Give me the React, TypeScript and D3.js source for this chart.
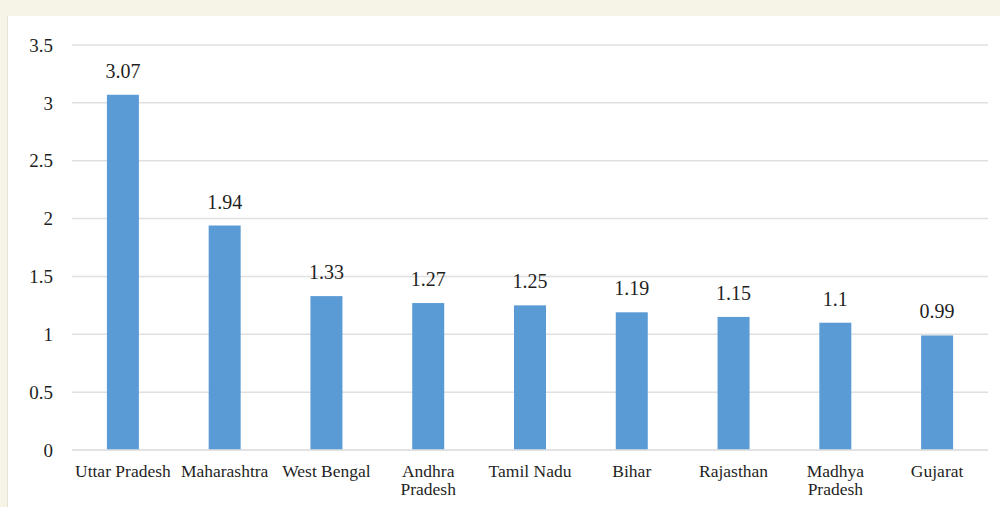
import React, { useEffect, useRef } from "react";
import * as d3 from "d3";

const categories = [
  "Uttar Pradesh",
  "Maharashtra",
  "West Bengal",
  "Andhra Pradesh",
  "Tamil Nadu",
  "Bihar",
  "Rajasthan",
  "Madhya Pradesh",
  "Gujarat",
];
const values = [3.07, 1.94, 1.33, 1.27, 1.25, 1.19, 1.15, 1.1, 0.99];
const yTicks = [0, 0.5, 1, 1.5, 2, 2.5, 3, 3.5];

const W = 1000;
const H = 507;
const FONT = "'Liberation Serif', 'Times New Roman', serif";

export default function App() {
  const ref = useRef<SVGSVGElement | null>(null);

  useEffect(() => {
    const svg = d3.select(ref.current);
    svg.selectAll("*").remove();

    svg.append("rect").attr("x", 0).attr("y", 0).attr("width", W).attr("height", H).attr("fill", "#f6f3e7");
    svg.append("rect").attr("x", 7).attr("y", 16).attr("width", W - 7).attr("height", H - 16).attr("fill", "#ffffff");
    svg.append("line").attr("x1", 7.5).attr("x2", 7.5).attr("y1", 16).attr("y2", H).attr("stroke", "#e6e2d6").attr("stroke-width", 1);

    const x = d3.scaleBand<string>().domain(categories).range([72, 988]).paddingInner(0).paddingOuter(0);
    const y = d3.scaleLinear().domain([0, 3.5]).range([450, 45]);

    const g = svg.append("g");

    // gridlines
    g.selectAll("line.grid")
      .data(yTicks)
      .enter()
      .append("line")
      .attr("x1", 72)
      .attr("x2", 988)
      .attr("y1", (d) => y(d))
      .attr("y2", (d) => y(d))
      .attr("stroke", "#e0e0e0")
      .attr("stroke-width", 1.5);

    // y tick labels
    g.selectAll("text.ytick")
      .data(yTicks)
      .enter()
      .append("text")
      .attr("x", 53)
      .attr("y", (d) => y(d))
      .attr("dy", "0.35em")
      .attr("text-anchor", "end")
      .attr("font-family", FONT)
      .attr("font-size", 19)
      .attr("fill", "#1f1f1f")
      .text((d) => String(d));

    const bw = 32;
    // bars
    g.selectAll("rect.bar")
      .data(values)
      .enter()
      .append("rect")
      .attr("x", (_, i) => (x(categories[i]) as number) + x.bandwidth() / 2 - bw / 2)
      .attr("y", (d) => y(d))
      .attr("width", bw)
      .attr("height", (d) => y(0) - y(d))
      .attr("fill", "#5b9bd5");

    // redraw baseline over bars
    g.append("line")
      .attr("x1", 72)
      .attr("x2", 988)
      .attr("y1", y(0))
      .attr("y2", y(0))
      .attr("stroke", "#e0e0e0")
      .attr("stroke-width", 1.5);

    // data labels
    g.selectAll("text.val")
      .data(values)
      .enter()
      .append("text")
      .attr("x", (_, i) => (x(categories[i]) as number) + x.bandwidth() / 2)
      .attr("y", (d) => y(d) - 17)
      .attr("text-anchor", "middle")
      .attr("font-family", FONT)
      .attr("font-size", 20)
      .attr("fill", "#1f1f1f")
      .text((d) => String(d));

    // category labels with wrapping
    const maxW = x.bandwidth() - 2;
    categories.forEach((c) => {
      const cx = (x(c) as number) + x.bandwidth() / 2;
      const t = g
        .append("text")
        .attr("x", cx)
        .attr("y", 477)
        .attr("text-anchor", "middle")
        .attr("font-family", FONT)
        .attr("font-size", 17.5)
        .attr("fill", "#1f1f1f")
        .text(c);
      const node = t.node() as SVGTextElement;
      if (node.getComputedTextLength() > maxW && c.includes(" ")) {
        const words = c.split(" ");
        t.text(null);
        words.forEach((w, k) => {
          t.append("tspan").attr("x", cx).attr("y", 477 + k * 18).text(w);
        });
      }
    });
  }, []);

  return (
    <svg
      ref={ref}
      width={W}
      height={H}
      style={{ position: "absolute", left: 0, top: 0, display: "block" }}
    />
  );
}
